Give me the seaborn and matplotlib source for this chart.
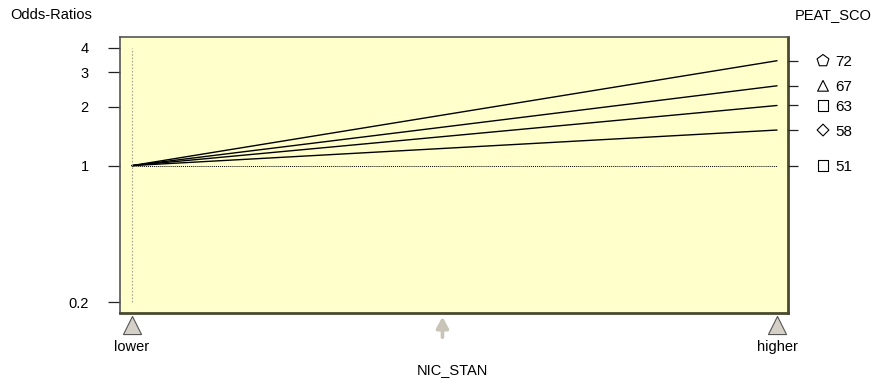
import numpy as np
import pandas as pd
import matplotlib
matplotlib.use("Agg")
import matplotlib.pyplot as plt
import matplotlib.transforms as mtransforms
import seaborn as sns

# Odds ratios of NIC_STAN (lower -> higher) at several PEAT_SCO levels
peat_levels = [51, 58, 63, 67, 72]
odds_lower = [1.0, 1.0, 1.0, 1.0, 1.0]
odds_higher = [1.0, 1.52, 2.03, 2.56, 3.44]
level_markers = ["s", "D", "s", "^", "p"]
x_labels = ["lower", "higher"]
y_ticks = [0.2, 1, 2, 3, 4]

rows = []
for lvl, lo, hi in zip(peat_levels, odds_lower, odds_higher):
    rows.append({"pos": 0.0, "odds": lo, "PEAT_SCO": str(lvl)})
    rows.append({"pos": 1.0, "odds": hi, "PEAT_SCO": str(lvl)})
df = pd.DataFrame(rows)

sns.set_theme(style="white")
plt.rcParams["font.family"] = ["Liberation Sans", "DejaVu Sans"]
plt.rcParams["text.color"] = "black"

fig = plt.figure(figsize=(8.82, 3.86), dpi=100)
ax = fig.add_axes([120 / 882, 1 - 313 / 386, 668 / 882, 276 / 386])
ax.set_facecolor("#FFFFCC")

palette = {str(l): "black" for l in peat_levels}
dashes = {str(l): "" for l in peat_levels}
dashes[str(peat_levels[0])] = (1, 1)
sns.lineplot(data=df, x="pos", y="odds", hue="PEAT_SCO", style="PEAT_SCO",
             palette=palette, dashes=dashes, linewidth=1.0, legend=False, ax=ax)
for ln in ax.get_lines():
    if ln.get_linestyle() != "-":
        ln.set_linewidth(0.7)

# vertical reference line at the baseline
ax.plot([0, 0], [min(y_ticks), max(y_ticks)], color="#A8A890", lw=0.8,
        ls=(0, (1.5, 1.5)))

ax.set_yscale("log")
ax.set_ylim(0.176, 4.55)
ax.set_xlim(-0.0186, 1.017)
ax.set_yticks(y_ticks)
ax.set_yticklabels([f"{t:g}" for t in y_ticks])
ax.yaxis.set_minor_locator(matplotlib.ticker.NullLocator())
ax.set_xticks([])
ax.tick_params(axis="y", which="major", left=True, length=8.6, width=0.9,
               color="#222222", pad=14, labelsize=10.5, labelcolor="black")
ax.set_xlabel("")
ax.set_ylabel("")

for side in ["left", "top"]:
    ax.spines[side].set_color("#555555")
    ax.spines[side].set_linewidth(1.2)
for side in ["right", "bottom"]:
    ax.spines[side].set_color("#4A4A30")
    ax.spines[side].set_linewidth(2.0)

# right-hand axis labelling the PEAT_SCO levels
ax2 = ax.twinx()
ax2.set_yscale("log")
ax2.set_ylim(ax.get_ylim())
ax2.set_yticks(odds_higher)
ax2.set_yticklabels([str(l) for l in peat_levels])
ax2.yaxis.set_minor_locator(matplotlib.ticker.NullLocator())
ax2.tick_params(axis="y", right=True, length=7.2, width=0.9, color="#222222",
                pad=27, labelsize=11, labelcolor="black")
for s in ax2.spines.values():
    s.set_visible(False)

trans = mtransforms.blended_transform_factory(fig.transFigure, ax.transData)
for y, m in zip(odds_higher, level_markers):
    ms = {"s": 60, "p": 80, "^": 60, "D": 36}[m]
    ax.scatter([823 / 882], [y], marker=m, s=ms, facecolor="none",
               edgecolor="black", linewidth=0.8, transform=trans, clip_on=False,
               zorder=5)

# category markers beneath the axis
transb = mtransforms.blended_transform_factory(ax.transData, fig.transFigure)
for xp, lab in zip([0.0, 1.0], x_labels):
    ax.scatter([xp], [1 - 325 / 386], marker="^", s=170, facecolor="#D4D0C8",
               edgecolor="#555555", linewidth=0.8, transform=transb,
               clip_on=False, zorder=5)
    ax.text(xp, 1 - 347 / 386, lab, transform=transb, ha="center", va="center",
            fontsize=10.5, color="black")

ax.annotate("", xy=(0.4813, 1 - 314 / 386), xytext=(0.4813, 1 - 340 / 386),
            xycoords=transb, textcoords=transb,
            arrowprops=dict(arrowstyle="-|>,head_width=0.3,head_length=0.55",
                            color="#C8C4B8", lw=2.6))

fig.text(452 / 882, 1 - 370 / 386, "NIC_STAN", ha="center", va="center",
         fontsize=10.5, color="black")
fig.text(10 / 882, 1 - 15 / 386, "Odds-Ratios", ha="left", va="center",
         fontsize=10.5, color="black")
fig.text(872 / 882, 1 - 15 / 386, "PEAT_SCO", ha="right", va="center",
         fontsize=10.5, color="black")

fig.savefig("out.png", dpi=100)
